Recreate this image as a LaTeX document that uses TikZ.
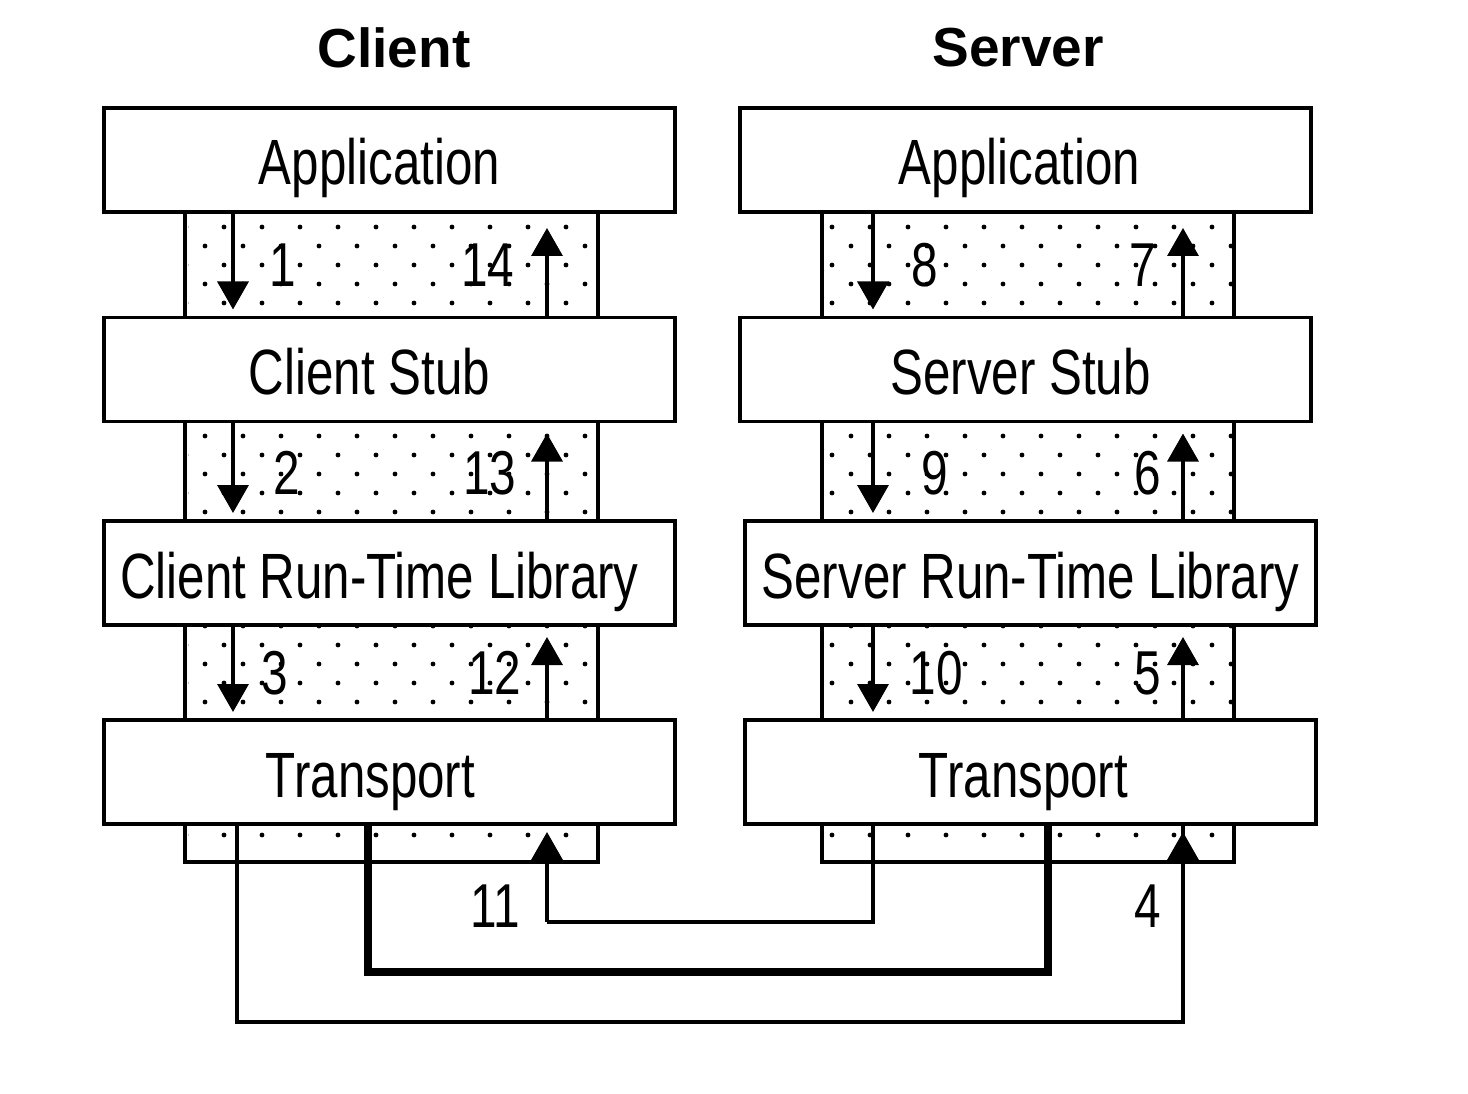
\documentclass[tikz,border=0pt]{standalone}
\usepackage{fontspec}
\usetikzlibrary{arrows.meta}
\newfontfamily\lblfont{Liberation Sans}[FakeStretch=0.77]
\newfontfamily\ttlfont{Liberation Sans Bold}
\tikzset{
  layerbox/.style={draw, line width=3.6pt, fill=white, inner sep=0pt, outer sep=0pt,
    minimum width=571pt, minimum height=104pt, text height=50pt, text depth=0pt,
    font=\lblfont\fontsize{64}{70}\selectfont},
  stripbox/.style={draw, line width=3.4pt, inner sep=0pt, outer sep=0pt, minimum width=413pt},
  numlbl/.style={inner sep=0pt, font=\lblfont\fontsize{62}{68}\selectfont},
  ttl/.style={inner sep=0pt, font=\ttlfont\fontsize{55}{60}\selectfont},
  flow/.style={line width=3.4pt, -{Triangle[width=31pt,length=28pt]}},
  wire/.style={line width=3.4pt},
  thickwire/.style={line width=8pt},
}
\begin{document}
\begin{tikzpicture}[x=1pt,y=-1pt]
\useasboundingbox (0,0) rectangle (1468,1094);
\fill[white] (0,0) rectangle (1468,1094);

% titles
\node[ttl] (tclient) at (394,48) {Client};
\node[ttl] (tserver) at (1018,48) {Server};

% strips (client)
\node[stripbox, minimum height=106pt] (cs1) at (391.5,265) {};
\node[stripbox, minimum height=100pt] (cs2) at (391.5,471) {};
\node[stripbox, minimum height=95pt] (cs3) at (391.5,672.5) {};
\node[stripbox, minimum height=38pt] (cs4) at (391.5,843) {};
% strips (server)
\node[stripbox, minimum width=412pt, minimum height=106pt] (ss1) at (1028,265) {};
\node[stripbox, minimum width=412pt, minimum height=100pt] (ss2) at (1028,471) {};
\node[stripbox, minimum width=412pt, minimum height=95pt] (ss3) at (1028,672.5) {};
\node[stripbox, minimum width=412pt, minimum height=38pt] (ss4) at (1028,843) {};

% dots
\begin{scope}
  \clip (188,214) rectangle (596,860);
  \foreach \j in {0,...,33} {
    \foreach \i in {0,...,21} {
      \pgfmathtruncatemacro\pp{mod(\i+\j,2)}
      \ifnum\pp=1 \fill (186+19*\i,208+19*\j) circle (2.4pt); \fi
    }
  }
\end{scope}
\begin{scope}
  \clip (825,214) rectangle (1232,860);
  \foreach \j in {0,...,33} {
    \foreach \i in {0,...,21} {
      \pgfmathtruncatemacro\pp{mod(\i+\j,2)}
      \ifnum\pp=1 \fill (832+19*\i,208+19*\j) circle (2.4pt); \fi
    }
  }
\end{scope}

% layer boxes
\node[layerbox] (capp)   at (389.5,160)   {Application\kern20pt};
\node[layerbox] (cstub)  at (389.5,369.5) {Client Stub\kern40pt};
\node[layerbox] (crtl)   at (389.5,573)   {Client Run-Time Library\kern20pt};
\node[layerbox] (ctrans) at (389.5,772)   {Transport\kern38pt};
\node[layerbox] (sapp)   at (1025.5,160)   {Application\kern12pt};
\node[layerbox] (sstub)  at (1025.5,369.5) {Server Stub\kern10pt};
\node[layerbox] (srtl)   at (1030.5,573)   {Server Run-Time Library};
\node[layerbox] (strans) at (1030.5,772)   {Transport\kern14pt};

% arrow columns
\coordinate (cdn) at (233,0);
\coordinate (cup) at (547,0);
\coordinate (sdn) at (873,0);
\coordinate (sup2) at (1183,0);
\coordinate (cw) at (237,0);
\coordinate (ct) at (368,0);
\coordinate (st) at (1048,0);

% vertical flows
\draw[flow, shorten >=8pt] (capp.south -| cdn) -- (cstub.north -| cdn);
\draw[flow, shorten >=8pt] (cstub.south -| cdn) -- (crtl.north -| cdn);
\draw[flow, shorten >=8pt] (crtl.south -| cdn) -- (ctrans.north -| cdn);
\draw[flow, shorten >=16pt] (cstub.north -| cup) -- (capp.south -| cup);
\draw[flow, shorten >=12pt] (crtl.north -| cup) -- (cstub.south -| cup);
\draw[flow, shorten >=12pt] (ctrans.north -| cup) -- (crtl.south -| cup);
\draw[flow, shorten >=8pt] (sapp.south -| sdn) -- (sstub.north -| sdn);
\draw[flow, shorten >=8pt] (sstub.south -| sdn) -- (srtl.north -| sdn);
\draw[flow, shorten >=8pt] (srtl.south -| sdn) -- (strans.north -| sdn);
\draw[flow, shorten >=16pt] (sstub.north -| sup2) -- (sapp.south -| sup2);
\draw[flow, shorten >=12pt] (srtl.north -| sup2) -- (sstub.south -| sup2);
\draw[flow, shorten >=12pt] (strans.north -| sup2) -- (srtl.south -| sup2);

% network connectors
\coordinate (b1) at (0,1022);
\coordinate (b2) at (0,972);
\coordinate (b3) at (0,922);
\draw[wire, line join=miter] (ctrans.south -| cw) -- (b1 -| cw) -- (b1 -| sup2) -- ([yshift=-2pt]strans.south -| sup2);
\draw[flow, shorten >=8pt] (b1 -| sup2) -- (strans.south -| sup2);
\draw[thickwire, line join=miter] (ctrans.south -| ct) -- (b2 -| ct) -- (b2 -| st) -- (strans.south -| st);
\draw[wire, line join=miter] (strans.south -| sdn) -- (b3 -| sdn) -- (b3 -| cup);
\draw[flow, shorten >=8pt] (b3 -| cup) -- (ctrans.south -| cup);

% numbers
\node[numlbl] (n1)  at (283,265) {1};
\node[numlbl] (n14) at (488,265) {14};
\node[numlbl] (n8)  at (925,265) {8};
\node[numlbl] (n7)  at (1143,265) {7};
\node[numlbl] (n2)  at (287,473) {2};
\node[numlbl] (n13) at (490,473) {13};
\node[numlbl] (n9)  at (935,473) {9};
\node[numlbl] (n6)  at (1148,473) {6};
\node[numlbl] (n3)  at (275,673) {3};
\node[numlbl] (n12) at (495,673) {12};
\node[numlbl] (n10) at (936,673) {10};
\node[numlbl] (n5)  at (1148,673) {5};
\node[numlbl] (n11) at (495,906) {11};
\node[numlbl] (n4)  at (1148,906) {4};
\end{tikzpicture}
\end{document}
